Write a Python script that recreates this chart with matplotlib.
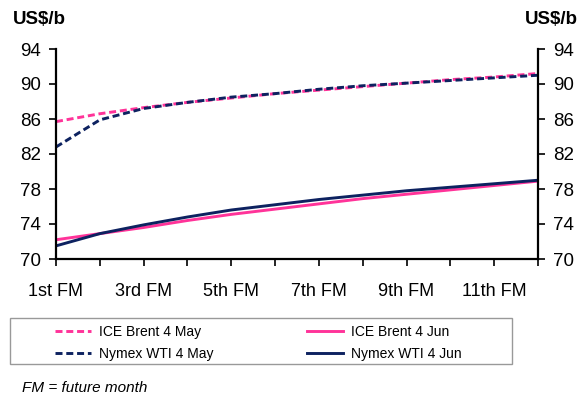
import matplotlib
matplotlib.use("Agg")
import matplotlib.pyplot as plt
from matplotlib.lines import Line2D
from matplotlib.patches import Rectangle

plt.rcParams['font.family'] = ['Liberation Sans', 'DejaVu Sans']

months = ["1st FM", "2nd FM", "3rd FM", "4th FM", "5th FM", "6th FM",
          "7th FM", "8th FM", "9th FM", "10th FM", "11th FM", "12th FM"]
brent_may = [85.7, 86.6, 87.3, 87.9, 88.4, 88.9, 89.3, 89.7, 90.1, 90.5, 90.8, 91.2]
wti_may = [82.8, 85.9, 87.2, 87.9, 88.5, 88.9, 89.4, 89.8, 90.1, 90.4, 90.7, 91.0]
brent_jun = [72.2, 72.9, 73.6, 74.4, 75.1, 75.7, 76.3, 76.9, 77.4, 77.9, 78.4, 78.9]
wti_jun = [71.5, 72.9, 73.9, 74.8, 75.6, 76.2, 76.8, 77.3, 77.8, 78.2, 78.6, 79.0]
yticks = [70, 74, 78, 82, 86, 90, 94]

PINK = "#ff3399"
NAVY = "#0d2260"
W, H = 579, 394
LW = 2.1

fig = plt.figure(figsize=(W/100, H/100), dpi=100)
ax = fig.add_axes([56/W, 1-259/H, (538-56)/W, (259-49)/H])

x = list(range(len(months)))
dash = (0, (2.4, 1.3))
ax.plot(x, brent_may, color=PINK, lw=LW, ls=dash)
ax.plot(x, wti_may, color=NAVY, lw=LW, ls=dash)
ax.plot(x, brent_jun, color=PINK, lw=LW)
ax.plot(x, wti_jun, color=NAVY, lw=LW)

ax.set_xlim(0, len(months) - 1)
ax.set_ylim(70, 94)
ax.set_xticks(x)
ax.set_xticklabels([m if i % 2 == 0 else "" for i, m in enumerate(months)], fontsize=13)
ax.set_yticks(yticks)
ax.tick_params(axis='y', labelsize=13.5, direction='out', length=5, width=1.2,
               left=True, right=True, labelleft=True, labelright=True, pad=6)
ax.tick_params(axis='x', direction='out', length=5, width=1.2, pad=12)
ax.spines['top'].set_visible(False)
for s in ('left', 'right', 'bottom'):
    ax.spines[s].set_linewidth(1.6)

fig.text(13/W, 1-19/H, "US$/b", fontsize=13.5, fontweight='bold', va='center', ha='left')
fig.text(578/W, 1-19/H, "US$/b", fontsize=13.5, fontweight='bold', va='center', ha='right')

# legend frame
fig.patches.append(Rectangle((10/W, 1-364/H), (512-10)/W, (364-318)/H,
                             transform=fig.transFigure, fill=False,
                             edgecolor='#999999', lw=1.0))

common = dict(fontsize=10, frameon=False, handlelength=2.6, handletextpad=0.6,
              labelspacing=0.55, borderpad=0, borderaxespad=0, loc='center left')
fig.legend([Line2D([], [], color=PINK, lw=LW, ls=dash),
            Line2D([], [], color=NAVY, lw=LW, ls=dash)],
           ["ICE Brent 4 May", "Nymex WTI 4 May"],
           bbox_to_anchor=(55/W, 1-343/H), **common)
fig.legend([Line2D([], [], color=PINK, lw=LW),
            Line2D([], [], color=NAVY, lw=LW)],
           ["ICE Brent 4 Jun", "Nymex WTI 4 Jun"],
           bbox_to_anchor=(307/W, 1-343/H), **common)

fig.text(22/W, 1-388/H, "FM = future month", fontsize=11, style='italic',
         va='center', ha='left')

fig.savefig("out.png", dpi=100)
